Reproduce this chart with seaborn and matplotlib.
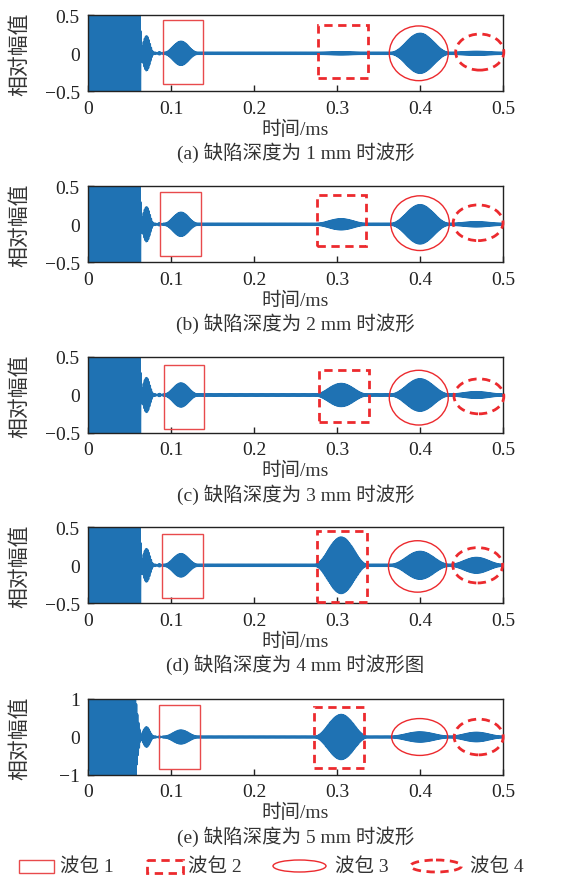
import numpy as np
import pandas as pd
import seaborn as sns
import matplotlib
matplotlib.use("Agg")
import matplotlib.pyplot as plt
from matplotlib.patches import Rectangle, Ellipse

sns.set_style("white")
plt.rcParams["font.family"] = ["Liberation Serif", "Noto Sans CJK SC"]
plt.rcParams["axes.unicode_minus"] = True
plt.rcParams["path.simplify"] = False
plt.rcParams["agg.path.chunksize"] = 20000

# ---- panels: defect depth and caption --------------------------------------
panel_tags = ["a", "b", "c", "d", "e"]
depths_mm = [1, 2, 3, 4, 5]
caption_tail = ["时波形", "时波形", "时波形", "时波形图", "时波形"]
y_limit = [0.5, 0.5, 0.5, 0.5, 1.0]
y_ticks = [[-0.5, 0, 0.5]] * 4 + [[-1, 0, 1]]
x_ticks = [0, 0.1, 0.2, 0.3, 0.4, 0.5]

# ---- received signal: wave packets (centre / full duration in ms) ----------
t_end_ms = 0.5
carrier_khz = 750.0
n_samples = 75000
packet_center = [0.030, 0.0705, 0.086, 0.112, 0.305, 0.400, 0.468]
packet_width = [0.072, 0.018, 0.010, 0.040, 0.066, 0.070, 0.062]

# packet amplitudes for each defect depth (1..5 mm)
amp_excitation = [30, 30, 30, 30, 8]
amp_echo_a = [0.22, 0.22, 0.22, 0.21, 0.25]
amp_echo_b = [0.03, 0.03, 0.03, 0.03, 0.04]
amp_packet1 = [0.145, 0.145, 0.145, 0.14, 0.16]
amp_packet2 = [0.015, 0.07, 0.15, 0.37, 0.59]
amp_packet3 = [0.25, 0.245, 0.20, 0.17, 0.11]
amp_packet4 = [0.012, 0.02, 0.03, 0.09, 0.10]
amp_floor = [0.012, 0.012, 0.012, 0.012, 0.02]
floor_start_ms = 0.064

# ---- marker outlines for the four wave packets ------------------------------
# packet 1: solid box (x0, x1, y0, y1)
box1 = [(0.090, 0.139, -0.403, 0.434), (0.087, 0.1365, -0.412, 0.421),
        (0.091, 0.140, -0.447, 0.390), (0.0895, 0.1386, -0.434, 0.410),
        (0.0855, 0.135, -0.84, 0.84)]
# packet 2: dashed box (x0, x1, y0, y1)
box2 = [(0.2775, 0.337, -0.324, 0.368), (0.2754, 0.335, -0.290, 0.390),
        (0.278, 0.338, -0.359, 0.324), (0.2763, 0.3357, -0.487, 0.451),
        (0.2727, 0.333, -0.82, 0.80)]
# packet 3: solid ellipse (cx, width, cy, height)
ell3 = [(0.3985, 0.071, 0.0, 0.72), (0.400, 0.0706, 0.015, 0.72),
        (0.3985, 0.071, -0.035, 0.72), (0.397, 0.070, -0.015, 0.677),
        (0.3996, 0.0675, 0.0, 0.97)]
# packet 4: dashed ellipse (cx, width, cy, height)
ell4 = [(0.472, 0.058, 0.016, 0.475), (0.470, 0.060, 0.020, 0.470),
        (0.471, 0.060, -0.018, 0.460), (0.4695, 0.060, 0.0, 0.465),
        (0.4707, 0.059, 0.0, 0.94)]

legend_labels = ["波包 1", "波包 2", "波包 3", "波包 4"]

WAVE = "#1f72b3"
RED = "#ec2a2e"
RED_SOLID = "#e84a4c"
TEXT = "#333333"


def hann(t, centre, width):
    u = (t - (centre - width / 2)) / width
    w = 0.5 * (1 - np.cos(2 * np.pi * u))
    w[(u < 0) | (u > 1)] = 0.0
    return w


def build_signal(i):
    t = np.linspace(0.0, t_end_ms, n_samples)
    amps = [amp_excitation[i], amp_echo_a[i], amp_echo_b[i], amp_packet1[i],
            amp_packet2[i], amp_packet3[i], amp_packet4[i]]
    y = np.zeros_like(t)
    for a, c, w in zip(amps, packet_center, packet_width):
        y += a * hann(t, c, w) * np.sin(2 * np.pi * carrier_khz * (t - c))
    y += amp_floor[i] * (t > floor_start_ms) * np.sin(2 * np.pi * carrier_khz * t)
    return pd.DataFrame({"time": t, "amp": y})


fig = plt.figure(figsize=(5.71, 8.78), dpi=100)
W, H = 571.0, 878.0
ax_left, ax_w, ax_h = 88 / W, 415 / W, 76 / H
ax_bottom_px = [92.3, 263.3, 434.0, 604.3, 776.0]

fs = 14
for i, tag in enumerate(panel_tags):
    ax = fig.add_axes([ax_left, 1 - ax_bottom_px[i] / H, ax_w, ax_h])
    df = build_signal(i)
    sns.lineplot(data=df, x="time", y="amp", ax=ax, color=WAVE, lw=1.25,
                 estimator=None, sort=False)
    ax.set_xlim(0, 0.5)
    ax.set_ylim(-y_limit[i], y_limit[i])
    ax.set_xticks(x_ticks)
    ax.set_xticklabels(["0", "0.1", "0.2", "0.3", "0.4", "0.5"])
    ax.set_yticks(y_ticks[i])
    if y_limit[i] == 1.0:
        ax.set_yticklabels(["\u22121", "0", "1"])
    else:
        ax.set_yticklabels(["\u22120.5", "0", "0.5"])
    ax.tick_params(direction="in", length=4, width=1.0, labelsize=fs,
                   pad=6, colors="#222222", bottom=True, left=True)
    for s in ax.spines.values():
        s.set_linewidth(1.0)
        s.set_color("#222222")
    ax.set_ylabel("相对幅值", fontsize=15, color=TEXT)
    ax.yaxis.set_label_coords(-0.14, 0.5)
    ax.set_xlabel("时间/ms", fontsize=fs, color=TEXT)
    ax.xaxis.set_label_coords(0.5, -0.37)
    ax.text(0.5, -0.80, f"({tag}) 缺陷深度为 {depths_mm[i]} mm {caption_tail[i]}",
            transform=ax.transAxes, ha="center", va="center", fontsize=fs,
            color=TEXT)

    x0, x1, y0, y1 = box1[i]
    ax.add_patch(Rectangle((x0, y0), x1 - x0, y1 - y0, fill=False,
                           ec=RED_SOLID, lw=1.0, clip_on=False, zorder=5))
    x0, x1, y0, y1 = box2[i]
    ax.add_patch(Rectangle((x0, y0), x1 - x0, y1 - y0, fill=False,
                           ec=RED, lw=2.0, ls=(0, (3, 2)), clip_on=False, zorder=5))
    cx, w, cy, h = ell3[i]
    ax.add_patch(Ellipse((cx, cy), w, h, fill=False, ec=RED, lw=1.0,
                         clip_on=False, zorder=5))
    cx, w, cy, h = ell4[i]
    ax.add_patch(Ellipse((cx, cy), w, h, fill=False, ec=RED, lw=2.0,
                         ls=(0, (3, 2)), clip_on=False, zorder=5))

# ---- legend row in pixel coordinates ----------------------------------------
lg = fig.add_axes([0, 0, 1, 1], facecolor="none")
lg.set_xlim(0, W)
lg.set_ylim(H, 0)
lg.axis("off")
row_y = 867
lg.add_patch(Rectangle((18.5, 861), 35, 13, fill=False, ec=RED_SOLID, lw=1.0))
lg.add_patch(Rectangle((147, 861), 36, 13, fill=False, ec=RED, lw=2.0,
                       ls=(0, (3, 2))))
lg.add_patch(Ellipse((299.5, 867), 53, 12, fill=False, ec=RED, lw=1.0))
lg.add_patch(Ellipse((436, 867), 51, 12, fill=False, ec=RED, lw=2.0,
                     ls=(0, (3, 2))))
for x, lab in zip([60, 188, 335, 470], legend_labels):
    lg.text(x, row_y, lab, ha="left", va="center", fontsize=fs, color=TEXT)

fig.savefig("out.png", dpi=100)
